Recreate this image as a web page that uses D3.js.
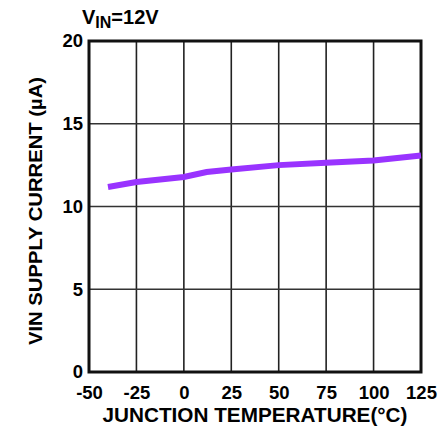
<!DOCTYPE html>
<html><head><meta charset="utf-8">
<script src="https://cdn.jsdelivr.net/npm/d3@7"></script>
<style>body{margin:0;background:#fff}svg{display:block}text{font-family:"Liberation Sans",Arial,sans-serif;font-weight:bold;fill:#000}</style>
</head><body>
<script>
const xTicks = [-50,-25,0,25,50,75,100,125];
const yTicks = [0,5,10,15,20];
const temps = [-40,-25,0,12,25,50,75,100,125];
const current = [11.18,11.48,11.78,12.08,12.24,12.5,12.64,12.78,13.08];

const W=447,H=435;
const svg=d3.select("body").append("svg").attr("width",W).attr("height",H);
const L=89,R=421,T=41,B=372;
const x=d3.scaleLinear().domain([-50,125]).range([L,R]);
const y=d3.scaleLinear().domain([0,20]).range([B,T]);
const fmt=d=>String(d);

// grid
svg.append("g").selectAll("line").data(xTicks.slice(1,-1)).join("line")
 .attr("x1",d=>x(d)).attr("x2",d=>x(d)).attr("y1",T).attr("y2",B)
 .attr("stroke","#222").attr("stroke-width",1.6);
svg.append("g").selectAll("line").data(yTicks.slice(1,-1)).join("line")
 .attr("y1",d=>y(d)).attr("y2",d=>y(d)).attr("x1",L).attr("x2",R)
 .attr("stroke","#333").attr("stroke-width",1.6);

// axes labels
const xa=svg.append("g").attr("transform",`translate(0,${B})`)
 .call(d3.axisBottom(x).tickValues(xTicks).tickFormat(fmt).tickSize(0).tickPadding(14));
xa.select(".domain").remove();
xa.selectAll("text").attr("font-size",18.5).attr("font-family","Liberation Sans, Arial, sans-serif").attr("font-weight","bold").attr("fill","#000");
const ya=svg.append("g").attr("transform",`translate(${L},0)`)
 .call(d3.axisLeft(y).tickValues(yTicks).tickFormat(fmt).tickSize(0).tickPadding(6));
ya.select(".domain").remove();
ya.selectAll("text").attr("font-size",18.5).attr("font-family","Liberation Sans, Arial, sans-serif").attr("font-weight","bold").attr("fill","#000");

// frame
svg.append("rect").attr("x",L).attr("y",T).attr("width",R-L).attr("height",B-T)
 .attr("fill","none").attr("stroke","#111").attr("stroke-width",3);

// curve
const line=d3.line().x((d,i)=>x(temps[i])).y(d=>y(d));
svg.append("path").datum(current).attr("d",line).attr("fill","none")
 .attr("stroke","#9933ff").attr("stroke-width",6);

// titles
svg.append("text").attr("x",255).attr("y",422).attr("text-anchor","middle")
 .attr("font-size",19.5).attr("textLength",305).attr("lengthAdjust","spacingAndGlyphs")
 .text("JUNCTION TEMPERATURE(°C)");
svg.append("text").attr("transform","translate(42,211) rotate(-90)").attr("text-anchor","middle")
 .attr("font-size",19).attr("textLength",268).attr("lengthAdjust","spacingAndGlyphs")
 .text("VIN SUPPLY CURRENT (µA)");
const t=svg.append("text").attr("x",82).attr("y",24).attr("font-size",20);
t.append("tspan").text("V");
t.append("tspan").attr("dy",4).attr("font-size",16).text("IN");
t.append("tspan").attr("dy",-4).text("=12V");
</script>
</body></html>
